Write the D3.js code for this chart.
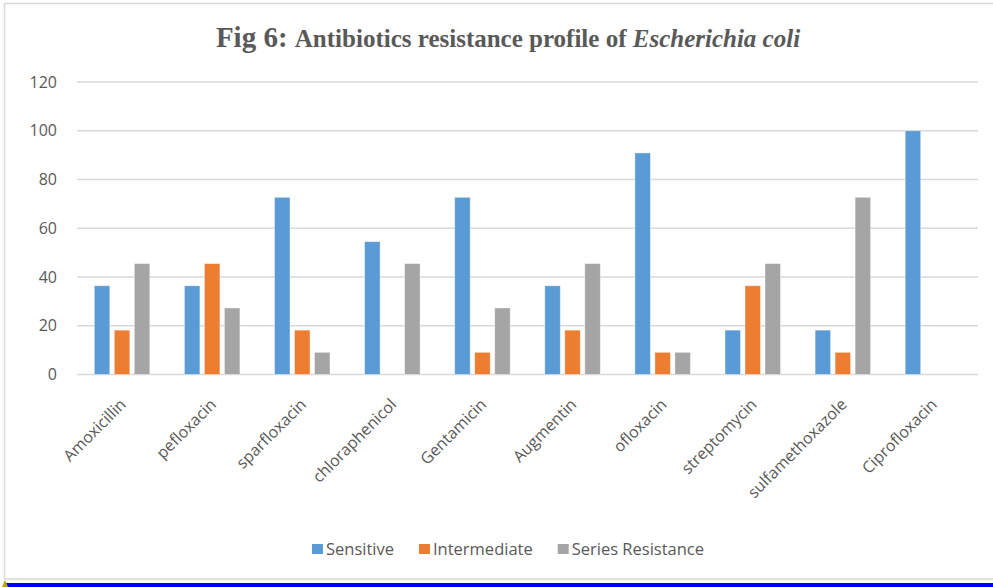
<!DOCTYPE html>
<html>
<head>
<meta charset="utf-8">
<script src="https://cdn.jsdelivr.net/npm/d3@7"></script>
<style>
  body { margin: 0; background: #fff; }
  svg { display: block; }
  text { fill: #595959; }
</style>
</head>
<body>
<div class="chart"></div>
<script>
const width = 993
const height = 587

// data (% of isolates)
const drugs = ['Amoxicillin', 'pefloxacin', 'sparfloxacin', 'chloraphenicol', 'Gentamicin',
  'Augmentin', 'ofloxacin', 'streptomycin', 'sulfamethoxazole', 'Ciprofloxacin']
const seriesNames = ['Sensitive', 'Intermediate', 'Series Resistance']
const sensitive    = [36.4, 36.4, 72.7, 54.5, 72.7, 36.4, 90.9, 18.2, 18.2, 100]
const intermediate = [18.2, 45.5, 18.2, 0, 9.1, 18.2, 9.1, 36.4, 9.1, 0]
const resistance   = [45.5, 27.3, 9.1, 45.5, 27.3, 45.5, 9.1, 45.5, 72.7, 0]
const yTicks = [0, 20, 40, 60, 80, 100, 120]
const colors = ['#5b9bd5', '#ed7d31', '#a5a5a5']

const seriesValues = [sensitive, intermediate, resistance]
const rows = drugs.map((d, i) => ({
  drug: d,
  values: seriesNames.map((s, j) => ({ key: s, value: seriesValues[j][i] }))
}))

const margin = {top: 82, right: 15, bottom: 212, left: 77}

const svg = d3.select('.chart')
  .append('svg')
  .attr('width', width)
  .attr('height', height)

// outer frame of the chart area
svg.append('rect')
  .attr('x', 4.5).attr('y', 3.5)
  .attr('width', width + 10).attr('height', 575.5)
  .attr('fill', '#fff')
  .attr('stroke', '#d9d9d9')
  .attr('stroke-width', 1.5)

// blue page rule + little marker at the bottom
svg.append('rect')
  .attr('x', 5).attr('y', 583)
  .attr('width', width).attr('height', 4)
  .attr('fill', '#0000ff')
svg.append('path')
  .attr('d', 'M2,587 L5,580 L8,587 Z')
  .attr('fill', '#b5a800')

// title
const title = svg.append('text')
  .attr('x', 508)
  .attr('y', 47)
  .attr('text-anchor', 'middle')
  .style('font-family', '"Liberation Serif", "Times New Roman", serif')
  .style('font-weight', 'bold')
title.append('tspan').style('font-size', '29px').text('Fig 6: ')
title.append('tspan').style('font-size', '25px').text('Antibiotics resistance profile of ')
title.append('tspan').style('font-size', '25px').style('font-style', 'italic').text('Escherichia coli')

const g = svg.append('g')
  .attr('transform', `translate(${margin.left},${margin.top})`)

const innerW = 978 - margin.left
const innerH = 374.5 - margin.top

const x0 = d3.scaleBand()
  .domain(drugs)
  .range([0, innerW])
  .padding(0)

const groupW = 55.5
const x1 = d3.scaleBand()
  .domain(seriesNames)
  .range([(x0.bandwidth() - groupW) / 2, (x0.bandwidth() + groupW) / 2])
  .paddingInner(0.225)

const y = d3.scaleLinear()
  .domain([0, 120])
  .range([innerH, 0])

// gridlines
g.append('g')
  .selectAll('line')
  .data(yTicks)
  .enter().append('line')
    .attr('x1', 0)
    .attr('x2', innerW)
    .attr('y1', d => y(d))
    .attr('y2', d => y(d))
    .attr('stroke', '#d9d9d9')
    .attr('stroke-width', 1.3)

// y axis labels
const yAxis = g.append('g')
  .attr('transform', 'translate(-20,0)')
  .call(d3.axisLeft(y).tickValues(yTicks).tickSize(0).tickPadding(0))
yAxis.select('.domain').remove()
yAxis.selectAll('text')
  .style('font-family', '"Open Sans", sans-serif')
  .style('font-size', '16px')
  .style('fill', '#595959')

// bars
const groups = g.selectAll('g.group')
  .data(rows)
  .enter().append('g')
    .attr('class', 'group')
    .attr('transform', d => `translate(${x0(d.drug)},0)`)

groups.selectAll('rect')
  .data(d => d.values)
  .enter().append('rect')
    .attr('x', d => x1(d.key))
    .attr('y', d => y(d.value))
    .attr('width', x1.bandwidth())
    .attr('height', d => innerH - y(d.value))
    .attr('fill', (d, i) => colors[i])
    .attr('stroke', '#fff')
    .attr('stroke-opacity', 0.5)
    .attr('stroke-width', 0.8)

// x labels, rotated
const xAxis = g.append('g')
  .attr('transform', `translate(0,${innerH})`)
  .call(d3.axisBottom(x0).tickSize(0).tickPadding(0))
xAxis.select('.domain').remove()
xAxis.selectAll('text')
  .style('font-family', '"Open Sans", sans-serif')
  .style('font-size', '16px')
  .style('fill', '#595959')
  .attr('text-anchor', 'end')
  .attr('dy', '0.35em')
  .attr('transform', 'translate(1,27) rotate(-45)')

// legend
const legend = svg.append('g')
  .attr('class', 'legend')

let lx = 0
const items = legend.selectAll('g')
  .data(seriesNames)
  .enter().append('g')

items.append('rect')
  .attr('y', -5)
  .attr('width', 11)
  .attr('height', 10)
  .attr('fill', (d, i) => colors[i])

items.append('text')
  .attr('x', 14)
  .attr('dy', '0.35em')
  .style('font-family', '"Open Sans", sans-serif')
  .style('font-size', '16.5px')
  .style('fill', '#595959')
  .text(d => d)

items.each(function() {
  const w = this.getBBox().width
  d3.select(this).attr('transform', `translate(${lx},0)`)
  lx += w + 25
})
lx -= 25
legend.attr('transform', `translate(${508 - lx / 2},549)`)
</script>
</body>
</html>
